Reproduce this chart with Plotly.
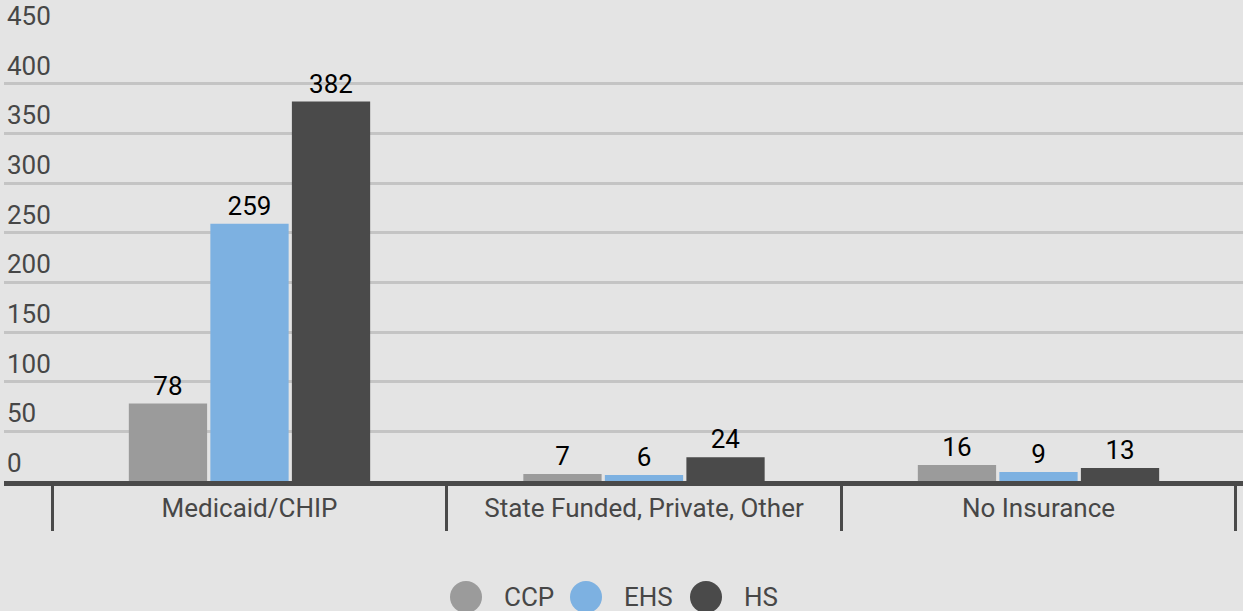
import plotly.graph_objects as go

categories = ["Medicaid/CHIP", "State Funded, Private, Other", "No Insurance"]
series_names = ["CCP", "EHS", "HS"]
ccp = [78, 7, 16]
ehs = [259, 6, 9]
hs = [382, 24, 13]
y_ticks = [0, 50, 100, 150, 200, 250, 300, 350, 400, 450]

colors = ["#9b9b9b", "#7db1e1", "#4a4a4a"]
values = [ccp, ehs, hs]
FONT = "Roboto"
TXT = "#474747"
FS = 26
W, H = 1243, 611
L, R, T, B = 4, 0, 34, 130

fig = go.Figure()
xs = list(range(len(categories)))
for name, vals, col in zip(series_names, values, colors):
    fig.add_trace(go.Bar(
        x=xs, y=vals, name=name, marker=dict(color=col, line=dict(width=0)),
        text=[str(v) for v in vals], textposition="outside",
        textfont=dict(family=FONT, size=FS, color="#000000"),
        cliponaxis=False, showlegend=False,
    ))

# x range so that category centers land where the reference has them
xr = [-0.6223, 2.5184]
boundaries = [i - 0.5 for i in range(len(categories) + 1)]

shapes = []
annotations = []
# custom legend with big circles
leg_x = [466, 586, 706]
leg_y = 597
plot_w = W - L - R
plot_h = H - T - B
for name, col, px in zip(series_names, colors, leg_x):
    xp = (px - L) / plot_w
    yp = (H - B - leg_y) / plot_h
    shapes.append(dict(type="circle", xref="paper", yref="paper",
                       xsizemode="pixel", ysizemode="pixel",
                       xanchor=xp, yanchor=yp, x0=-16, x1=16, y0=-16, y1=16,
                       fillcolor=col, line=dict(width=0)))
    annotations.append(dict(xref="paper", yref="paper", x=(px + 36 - L) / plot_w, y=yp,
                            xanchor="left", yanchor="middle", showarrow=False,
                            text=name, font=dict(family=FONT, size=FS, color=TXT)))

fig.update_layout(
    width=W, height=H,
    margin=dict(l=L, r=R, t=T, b=B, pad=0),
    paper_bgcolor="#e4e4e4", plot_bgcolor="#e4e4e4",
    barmode="group", bargap=0.38, bargroupgap=0.04,
    showlegend=False,
    shapes=shapes, annotations=annotations,
    xaxis=dict(
        range=xr, tickmode="array", tickvals=xs, ticktext=categories,
        ticks="", showgrid=False, zeroline=False,
        showline=True, linecolor="#4a4a4a", linewidth=5,
        tickfont=dict(family=FONT, size=FS, color=TXT),
        minor=dict(tickmode="array", tickvals=boundaries, ticks="outside",
                   ticklen=45, tickwidth=2.5, tickcolor="#4a4a4a", showgrid=False),
        layer="above traces", fixedrange=True,
    ),
    yaxis=dict(
        range=[0, 450], tickmode="array", tickvals=y_ticks,
        ticktext=[str(v) for v in y_ticks],
        ticklabelposition="inside top", ticklabeloverflow="allow",
        showgrid=True, gridcolor="#c4c4c4", gridwidth=2.5,
        zeroline=False, showline=False, ticks="",
        tickfont=dict(family=FONT, size=FS, color=TXT),
        fixedrange=True,
    ),
)

fig.write_html(
    "out.html",
    config={"displayModeBar": False},
    post_script="document.body.style.margin='0';document.body.style.background='#e4e4e4';",
)
